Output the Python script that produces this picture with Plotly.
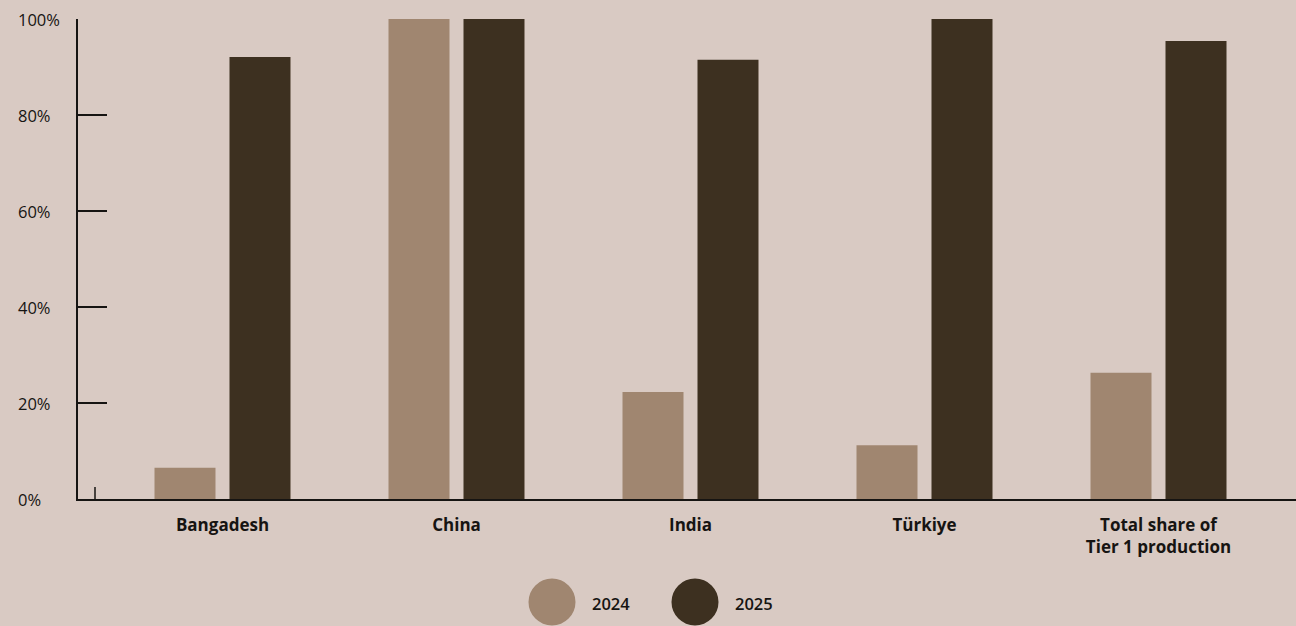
import plotly.graph_objects as go

categories = ["Bangadesh", "China", "India", "Türkiye", "Total share of<br>Tier 1 production"]
values_2024 = [6.5, 100, 22.3, 11.2, 26.3]
values_2025 = [92.1, 100, 91.5, 100, 95.4]
series_names = ["2024", "2025"]
tick_values = [0, 20, 40, 60, 80, 100]
tick_labels = ["0%", "20%", "40%", "60%", "80%", "100%"]

BG = "#D9CAC3"
C2024 = "#A08670"
C2025 = "#3D3020"
INK = "#161412"
FONT = "Open Sans"

fig = go.Figure()
for name, vals, col in [(series_names[0], values_2024, C2024), (series_names[1], values_2025, C2025)]:
    fig.add_trace(go.Bar(x=categories, y=vals, name=name, marker=dict(color=col, line=dict(width=0)),
                         showlegend=False))

W, H = 1296, 626
L, T, B, R = 78, 19, 127, 0
pw, ph = W - L - R, H - T - B

def px_x(X):
    return (X - L) / pw

def px_y(Y):
    return (T + ph - Y) / ph

# y tick labels, left aligned
annotations = []
for v, lab in zip(tick_values, tick_labels):
    annotations.append(dict(x=px_x(16), xref="paper", y=v, yref="y", text=lab, showarrow=False,
                            xanchor="left", yanchor="middle",
                            font=dict(family=FONT, size=16.5, color=INK, weight=500)))

# legend (manual circles + labels)
shapes = []
legend_centers = [552, 695]
for name, col, cx in zip(series_names, [C2024, C2025], legend_centers):
    r = 23.5
    shapes.append(dict(type="circle", xref="paper", yref="paper",
                       x0=px_x(cx - r), x1=px_x(cx + r), y0=px_y(602 + r), y1=px_y(602 - r),
                       fillcolor=col, line=dict(width=0), layer="above"))
    annotations.append(dict(x=px_x(cx + 38), xref="paper", y=px_y(603), yref="paper", text=name,
                            showarrow=False, xanchor="left", yanchor="middle",
                            font=dict(family=FONT, size=16.5, color=INK, weight=600)))

# small decorative tick near origin
shapes.append(dict(type="line", xref="paper", yref="paper", x0=px_x(95), x1=px_x(95),
                   y0=px_y(499), y1=px_y(487), line=dict(color=INK, width=1.5)))

fig.update_layout(
    width=W, height=H,
    paper_bgcolor=BG, plot_bgcolor=BG,
    margin=dict(l=L, r=R, t=T, b=B, autoexpand=False),
    barmode="group", bargap=0.359, bargroupgap=0.1867,
    font=dict(family=FONT, color=INK),
    shapes=shapes, annotations=annotations,
    showlegend=False,
)
fig.update_xaxes(range=[-0.6175, 4.5876], showgrid=False, showline=True, linecolor=INK, linewidth=1.5,
                 ticks="", tickfont=dict(family=FONT, size=17, color=INK, weight=700),
                 ticklabelstandoff=10, zeroline=False, fixedrange=True)
fig.update_yaxes(range=[0, 100], tickvals=tick_values, showticklabels=False, showgrid=False,
                 showline=True, linecolor=INK, linewidth=1.5, ticks="inside", ticklen=29,
                 tickwidth=1.5, tickcolor=INK, zeroline=False, fixedrange=True)

fig.write_html("out.html", config={"displayModeBar": False},
               post_script="document.body.style.margin='0';document.body.style.background='%s';" % BG)
